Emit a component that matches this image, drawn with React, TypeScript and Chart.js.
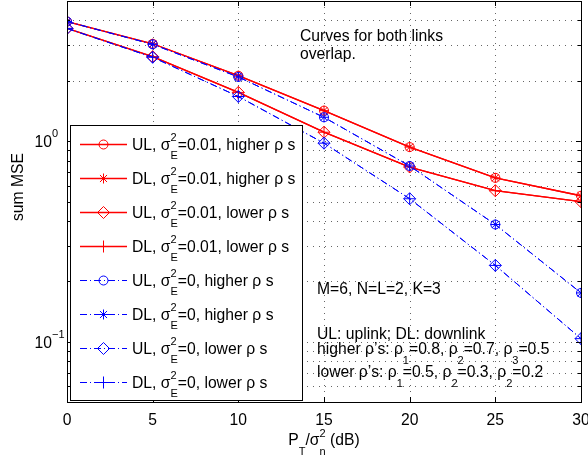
import React, { useEffect, useRef } from "react";
import { Chart, registerables } from "chart.js";
import { drawPoint } from "chart.js/helpers";

Chart.register(...registerables);

// ---------------- data ----------------
const snrDb = [0, 5, 10, 15, 20, 25, 30];

const ulHigherImperfect = [3.95, 3.06, 2.12, 1.42, 0.934, 0.656, 0.534];
const dlHigherImperfect = [3.95, 3.06, 2.12, 1.42, 0.934, 0.656, 0.534];
const ulLowerImperfect = [3.65, 2.64, 1.75, 1.108, 0.743, 0.566, 0.499];
const dlLowerImperfect = [3.65, 2.64, 1.75, 1.108, 0.743, 0.566, 0.499];
const ulHigherPerfect = [3.95, 3.04, 2.09, 1.315, 0.752, 0.384, 0.175];
const dlHigherPerfect = [3.95, 3.04, 2.09, 1.315, 0.752, 0.384, 0.175];
const ulLowerPerfect = [3.65, 2.62, 1.67, 0.977, 0.516, 0.24, 0.1035];
const dlLowerPerfect = [3.65, 2.62, 1.67, 0.977, 0.516, 0.24, 0.1035];

const xTickValues = [0, 5, 10, 15, 20, 25, 30];
const xTickLabels = ["0", "5", "10", "15", "20", "25", "30"];
const yGridValues = [
  0.05, 0.06, 0.07, 0.08, 0.09, 0.1, 0.2, 0.3, 0.4, 0.5, 0.6, 0.7, 0.8, 0.9, 1, 2, 3, 4, 5,
];
const yMajorValues = [0.1, 1];
const yMajorExponents = ["\u22121", "0"];

type Seg = string | { sup?: string; sub?: string };

const legendLabels: Seg[][] = [
  ["UL, \u03c3", { sup: "2", sub: "E" }, "=0.01, higher \u03c1 s"],
  ["DL, \u03c3", { sup: "2", sub: "E" }, "=0.01, higher \u03c1 s"],
  ["UL, \u03c3", { sup: "2", sub: "E" }, "=0.01, lower \u03c1 s"],
  ["DL, \u03c3", { sup: "2", sub: "E" }, "=0.01, lower \u03c1 s"],
  ["UL, \u03c3", { sup: "2", sub: "E" }, "=0, higher \u03c1 s"],
  ["DL, \u03c3", { sup: "2", sub: "E" }, "=0, higher \u03c1 s"],
  ["UL, \u03c3", { sup: "2", sub: "E" }, "=0, lower \u03c1 s"],
  ["DL, \u03c3", { sup: "2", sub: "E" }, "=0, lower \u03c1 s"],
];

const xAxisTitle: Seg[] = ["P", { sub: "T" }, "/\u03c3", { sup: "2", sub: "n" }, " (dB)"];
const yAxisTitle = "sum MSE";

const noteOverlap: Seg[][] = [["Curves for both links"], ["overlap."]];
const noteSystem: Seg[] = ["M=6, N=L=2, K=3"];
const noteLinks: Seg[] = ["UL: uplink; DL: downlink"];
const noteHigher: Seg[] = [
  "higher \u03c1\u2019s: \u03c1", { sub: "1" }, "=0.8, \u03c1", { sub: "2" }, "=0.7, \u03c1", { sub: "3" }, "=0.5",
];
const noteLower: Seg[] = [
  "lower \u03c1\u2019s: \u03c1", { sub: "1" }, "=0.5, \u03c1", { sub: "2" }, "=0.3, \u03c1", { sub: "2" }, "=0.2",
];

// ---------------- drawing helpers ----------------
const FONT = '"Liberation Sans", Arial, Helvetica, sans-serif';
const SIZE = 15.7;

function drawRich(
  ctx: CanvasRenderingContext2D,
  segs: Seg[],
  x: number,
  y: number,
  size: number,
  align: "left" | "center" | "right" = "left"
) {
  const small = Math.round(size * 0.72);
  const widths = segs.map((s) => {
    if (typeof s === "string") {
      ctx.font = `${size}px ${FONT}`;
      return ctx.measureText(s).width;
    }
    ctx.font = `${small}px ${FONT}`;
    return Math.max(
      s.sup ? ctx.measureText(s.sup).width : 0,
      s.sub ? ctx.measureText(s.sub).width : 0
    );
  });
  const total = widths.reduce((a, b) => a + b, 0);
  let cx = align === "center" ? x - total / 2 : align === "right" ? x - total : x;
  ctx.textAlign = "left";
  ctx.textBaseline = "alphabetic";
  segs.forEach((s, i) => {
    if (typeof s === "string") {
      ctx.font = `${size}px ${FONT}`;
      ctx.fillText(s, cx, y);
    } else {
      ctx.font = `${small}px ${FONT}`;
      if (s.sup) ctx.fillText(s.sup, cx, y - size * 0.52);
      if (s.sub) ctx.fillText(s.sub, cx, y + size * 0.62);
    }
    cx += widths[i];
  });
}

const RED = "#ff0000";
const BLUE = "#0000ff";
const BLUE_DASH = [7, 3, 1, 3];

function makeDataset(
  data: number[],
  color: string,
  pointStyle: string,
  radius: number,
  dashed: boolean
) {
  return {
    data: data.map((v, i) => ({ x: snrDb[i], y: v })),
    borderColor: color,
    borderWidth: dashed ? 1 : 1.3,
    borderDash: dashed ? BLUE_DASH : [],
    pointStyle,
    pointRadius: radius,
    pointBorderColor: color,
    pointBackgroundColor: "rgba(0,0,0,0)",
    pointBorderWidth: 1,
    fill: false,
    tension: 0,
    order: dashed ? 0 : 1,
  };
}

const framePlugin = {
  id: "matlabFrame",
  beforeDatasetsDraw(chart: any) {
    const { ctx, chartArea: a, scales } = chart;
    const xs = scales.x;
    const ys = scales.y;
    ctx.save();
    ctx.strokeStyle = "#666";
    ctx.lineWidth = 1;
    ctx.setLineDash([1, 5]);
    xTickValues.forEach((v) => {
      const px = Math.round(xs.getPixelForValue(v)) + 0.5;
      ctx.beginPath();
      ctx.moveTo(px, a.top);
      ctx.lineTo(px, a.bottom);
      ctx.stroke();
    });
    yGridValues.forEach((v) => {
      const py = Math.round(ys.getPixelForValue(v)) + 0.5;
      ctx.beginPath();
      ctx.moveTo(a.left, py);
      ctx.lineTo(a.right, py);
      ctx.stroke();
    });
    ctx.restore();
  },
  afterDatasetsDraw(chart: any) {
    const { ctx, chartArea: a, scales } = chart;
    const xs = scales.x;
    const ys = scales.y;
    ctx.save();
    // frame
    ctx.strokeStyle = "#000";
    ctx.lineWidth = 1;
    ctx.setLineDash([]);
    ctx.strokeRect(Math.round(a.left) + 0.5, Math.round(a.top) + 0.5, Math.round(a.right - a.left), Math.round(a.bottom - a.top));
    // ticks
    ctx.beginPath();
    xTickValues.forEach((v) => {
      const px = Math.round(xs.getPixelForValue(v)) + 0.5;
      ctx.moveTo(px, a.bottom);
      ctx.lineTo(px, a.bottom - 5);
      ctx.moveTo(px, a.top);
      ctx.lineTo(px, a.top + 5);
    });
    yGridValues.forEach((v) => {
      const py = Math.round(ys.getPixelForValue(v)) + 0.5;
      const len = yMajorValues.includes(v) ? 5 : 3;
      ctx.moveTo(a.left, py);
      ctx.lineTo(a.left + len, py);
      ctx.moveTo(a.right, py);
      ctx.lineTo(a.right - len, py);
    });
    ctx.stroke();

    ctx.fillStyle = "#000";
    // x tick labels
    xTickValues.forEach((v, i) => {
      drawRich(ctx, [xTickLabels[i]], xs.getPixelForValue(v), a.bottom + 23, SIZE, "center");
    });
    // y tick labels
    yMajorValues.forEach((v, i) => {
      const py = ys.getPixelForValue(v);
      ctx.font = `${SIZE}px ${FONT}`;
      const w = ctx.measureText("10").width;
      ctx.fillStyle = "#000";
      ctx.textAlign = "left";
      ctx.textBaseline = "alphabetic";
      ctx.fillText("10", 52 - w, py + 6);
      ctx.font = `${Math.round(SIZE * 0.72)}px ${FONT}`;
      ctx.fillText(yMajorExponents[i], 52, py - 4);
    });
    // axis titles
    drawRich(ctx, xAxisTitle, (a.left + a.right) / 2, 445, SIZE, "center");
    ctx.save();
    ctx.translate(23, 187);
    ctx.rotate(-Math.PI / 2);
    drawRich(ctx, [yAxisTitle], 0, 0, SIZE, "center");
    ctx.restore();

    // legend
    const lx0 = 70, ly0 = 125, lx1 = 302, ly1 = 400;
    ctx.fillStyle = "#fff";
    ctx.fillRect(lx0, ly0, lx1 - lx0, ly1 - ly0);
    ctx.strokeStyle = "#000";
    ctx.lineWidth = 1;
    ctx.strokeRect(lx0 + 0.5, ly0 + 0.5, lx1 - lx0, ly1 - ly0);
    chart.data.datasets.forEach((ds: any, i: number) => {
      const cy = 144 + i * 34;
      ctx.save();
      ctx.strokeStyle = ds.borderColor;
      ctx.lineWidth = ds.borderWidth;
      ctx.setLineDash(ds.borderDash || []);
      ctx.beginPath();
      ctx.moveTo(80, cy + 0.5);
      ctx.lineTo(127, cy + 0.5);
      ctx.stroke();
      ctx.setLineDash([]);
      ctx.lineWidth = 1;
      ctx.fillStyle = "rgba(0,0,0,0)";
      drawPoint(ctx, { pointStyle: ds.pointStyle, radius: ds.pointRadius, borderWidth: 1, rotation: 0 } as any, 103.5, cy + 0.5);
      ctx.restore();
      ctx.fillStyle = "#000";
      drawRich(ctx, legendLabels[i], 132, cy + 5.5, SIZE, "left");
    });

    // annotations
    ctx.fillStyle = "#000";
    drawRich(ctx, noteOverlap[0], 300, 41, SIZE);
    drawRich(ctx, noteOverlap[1], 300, 59, SIZE);
    drawRich(ctx, noteSystem, 317, 294, SIZE);
    drawRich(ctx, noteLinks, 317, 339, SIZE);
    drawRich(ctx, noteHigher, 317, 354, SIZE);
    drawRich(ctx, noteLower, 317, 377, SIZE);
    ctx.restore();
  },
};

export default function App() {
  const canvasRef = useRef<HTMLCanvasElement | null>(null);

  useEffect(() => {
    document.body.style.margin = "0";
    const canvas = canvasRef.current;
    if (!canvas) return;
    const chart = new Chart(canvas, {
      type: "line",
      data: {
        datasets: [
          makeDataset(ulHigherImperfect, RED, "circle", 4.5, false),
          makeDataset(dlHigherImperfect, RED, "star", 5, false),
          makeDataset(ulLowerImperfect, RED, "rectRot", 6, false),
          makeDataset(dlLowerImperfect, RED, "cross", 6, false),
          makeDataset(ulHigherPerfect, BLUE, "circle", 4.5, true),
          makeDataset(dlHigherPerfect, BLUE, "star", 5, true),
          makeDataset(ulLowerPerfect, BLUE, "rectRot", 6, true),
          makeDataset(dlLowerPerfect, BLUE, "cross", 6, true),
        ] as any,
      },
      options: {
        animation: false,
        responsive: false,
        devicePixelRatio: 1,
        layout: { autoPadding: false, padding: { top: 1, right: 7, left: 0, bottom: 0 } },
        plugins: { legend: { display: false }, tooltip: { enabled: false } },
        scales: {
          x: {
            type: "linear",
            min: 0,
            max: 30,
            afterBuildTicks: (s: any) => {
              s.ticks = xTickValues.map((v) => ({ value: v }));
            },
            afterFit: (s: any) => {
              s.height = 55;
            },
            ticks: { display: false },
            grid: { display: false },
            border: { display: false },
          },
          y: {
            type: "logarithmic",
            min: 0.05,
            max: 5,
            afterBuildTicks: (s: any) => {
              s.ticks = yGridValues.map((v) => ({ value: v }));
            },
            afterFit: (s: any) => {
              s.width = 67;
            },
            ticks: { display: false },
            grid: { display: false },
            border: { display: false },
          },
        },
      } as any,
      plugins: [framePlugin],
    });
    return () => chart.destroy();
  }, []);

  return (
    <div style={{ width: 588, height: 457, background: "#fff" }}>
      <canvas ref={canvasRef} width={588} height={457} />
    </div>
  );
}
